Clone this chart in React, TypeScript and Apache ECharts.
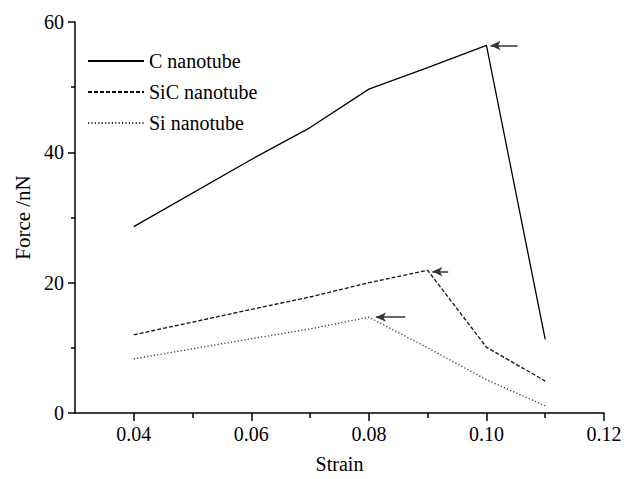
import React, { useEffect, useRef } from "react";
import * as echarts from "echarts";

const strain = [0.04, 0.06, 0.07, 0.08, 0.09, 0.10, 0.11];
const cForce = [28.6, 38.9, 43.8, 49.7, 53.0, 56.4, 11.3];
const sicForce = [12.0, 15.9, 17.8, 20.0, 21.9, 10.1, 4.9];
const siForce = [8.3, 11.4, 12.9, 14.7, 10.0, 5.1, 1.1];

const seriesNames = ["C nanotube", "SiC nanotube", "Si nanotube"];
const majorTicksX = [0.04, 0.06, 0.08, 0.10, 0.12];
const minorTicksX = [0.05, 0.07, 0.09, 0.11];
// arrows: [xStart (tip), xEnd, y]
const arrowC = [0.1007, 0.1053, 56.4];
const arrowSiC = [0.0908, 0.0935, 21.7];
const arrowSi = [0.0812, 0.0862, 14.7];

const FONT = "Liberation Serif";

function pair(xs: number[], ys: number[]) {
  return xs.map((x, i) => [x, ys[i]]);
}

function arrowMark(a: number[]) {
  return {
    silent: true,
    symbol: ["arrow", "none"],
    symbolSize: [7, 10],
    label: { show: false },
    lineStyle: { color: "#333", width: 1.5, type: "solid" },
    data: [[{ coord: [a[0], a[2]] }, { coord: [a[1], a[2]] }]],
  };
}

export default function App() {
  const ref = useRef<HTMLDivElement>(null);
  useEffect(() => {
    if (!ref.current) return;
    const chart = echarts.init(ref.current, undefined, { renderer: "svg" });
    const axisLine = { show: true, lineStyle: { color: "#000", width: 1.5 } };
    chart.setOption({
      animation: false,
      backgroundColor: "#fff",
      textStyle: { fontFamily: FONT },
      grid: { left: 75, right: 22, top: 22, bottom: 64, containLabel: false },
      legend: {
        orient: "vertical",
        left: 82,
        top: 46,
        itemWidth: 56,
        itemHeight: 14,
        itemGap: 11,
        itemStyle: { opacity: 0, borderWidth: 0 },
        textStyle: { fontFamily: FONT, fontSize: 20, color: "#000" },
        data: seriesNames,
      },
      xAxis: [
        {
          type: "value",
          min: 0.03,
          max: 0.12,
          interval: 0.01,
          axisLine,
          splitLine: { show: false },
          axisTick: {
            show: true,
            inside: false,
            length: 8,
            customValues: majorTicksX,
            lineStyle: { color: "#000", width: 1.5 },
          },
          axisLabel: {
            customValues: majorTicksX,
            margin: 11,
            fontFamily: FONT,
            fontSize: 20,
            color: "#000",
            formatter: (v: number) => v.toFixed(2),
          },
          name: "Strain",
          nameLocation: "middle",
          nameGap: 41,
          nameTextStyle: { fontFamily: FONT, fontSize: 20, color: "#000" },
        },
        {
          type: "value",
          min: 0.03,
          max: 0.12,
          interval: 0.01,
          position: "bottom",
          axisLine: { show: false },
          splitLine: { show: false },
          axisTick: {
            show: true,
            length: 5,
            customValues: minorTicksX,
            lineStyle: { color: "#000", width: 1.5 },
          },
          axisLabel: { show: false },
        },
      ],
      yAxis: {
        type: "value",
        min: 0,
        max: 60,
        interval: 20,
        axisLine,
        splitLine: { show: false },
        axisTick: { show: true, length: 7, lineStyle: { color: "#000", width: 1.5 } },
        minorTick: { show: true, splitNumber: 2, length: 4, lineStyle: { color: "#000", width: 1.5 } },
        axisLabel: { margin: 11, fontFamily: FONT, fontSize: 20, color: "#000" },
        name: "Force /nN",
        nameLocation: "middle",
        nameGap: 38,
        nameTextStyle: { fontFamily: FONT, fontSize: 21, color: "#000" },
      },
      series: [
        {
          name: seriesNames[0],
          type: "line",
          symbol: "none",
          data: pair(strain, cForce),
          lineStyle: { color: "#000", width: 1.3, type: "solid" },
          itemStyle: { color: "#000" },
          markLine: arrowMark(arrowC),
        },
        {
          name: seriesNames[1],
          type: "line",
          symbol: "none",
          data: pair(strain, sicForce),
          lineStyle: { color: "#111", width: 1.3, type: [4, 2] },
          itemStyle: { color: "#111" },
          markLine: arrowMark(arrowSiC),
        },
        {
          name: seriesNames[2],
          type: "line",
          symbol: "none",
          data: pair(strain, siForce),
          lineStyle: { color: "#333", width: 1.3, type: [1.2, 2.2] },
          itemStyle: { color: "#333" },
          markLine: arrowMark(arrowSi),
        },
      ],
    });
    return () => chart.dispose();
  }, []);
  return (
    <div
      ref={ref}
      style={{ position: "absolute", left: 0, top: 0, width: 626, height: 479 }}
    />
  );
}
